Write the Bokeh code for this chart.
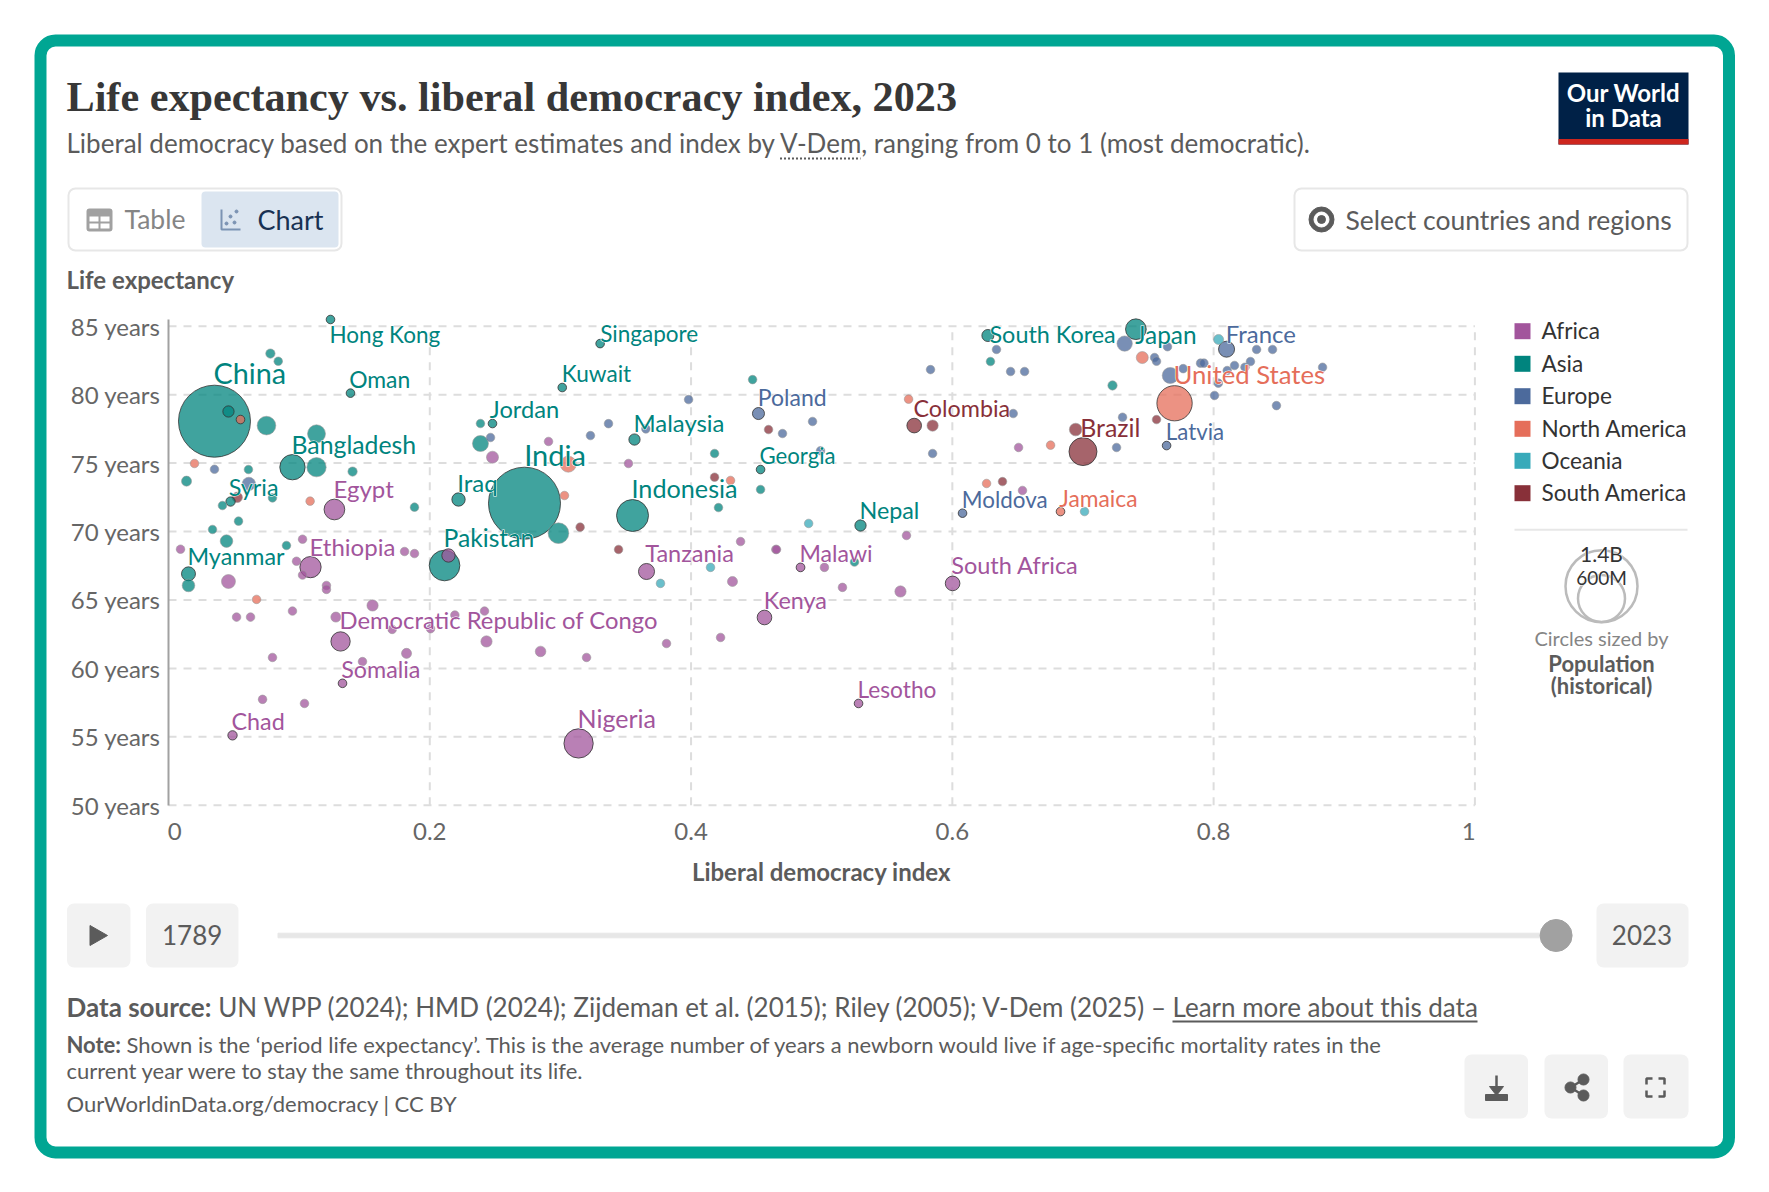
from bokeh.plotting import figure
from bokeh.models import (Range1d, LinearAxis, FixedTicker, BoxAnnotation, ColumnDataSource)
from bokeh.core.properties import value
from bokeh.embed import file_html
from bokeh.resources import INLINE
import numpy as np

# ---------- data ----------
x_ticks = [0, 0.2, 0.4, 0.6, 0.8, 1]
y_ticks = [50, 55, 60, 65, 70, 75, 80, 85]
x_tick_labels = ["0", "0.2", "0.4", "0.6", "0.8", "1"]
y_tick_labels = ["50 years", "55 years", "60 years", "65 years", "70 years", "75 years", "80 years", "85 years"]

continents = ["Africa", "Asia", "Europe", "North America", "Oceania", "South America"]

africa_names = ["Egypt", "Ethiopia", "Tanzania", "South Africa", "Kenya", "Democratic Republic of Congo",
                "Somalia", "Lesotho", "Chad", "Nigeria", "Malawi", ""]
africa_x = [.127, .1087, .3659, .6002, .4562, .1317, .1332, .5282, .049, .3139, .4838, .2143,
            .0092, .1026, .098, .1807, .1883, .0459, .248, .2909, .3521, .4649, .4654, .4379, .5649,
            .4317, .5021, .5159, .5603, .4226, .3812, .6507, .6537,
            .1026, .1209, .1209, .1562, .0521, .0628, .0949, .1281, .2419, .2192, .1712, .2006,
            .2434, .2848, .32, .0796, .1822, .1485, .072, .1041]
africa_y = [71.61, 67.4, 67.08, 66.21, 63.72, 61.97, 58.91, 57.44, 55.11, 54.52, 67.38, 68.25,
            68.71, 69.44, 67.83, 68.54, 68.39, 66.35, 75.43, 76.58, 74.97, 68.69, 68.69, 69.27, 69.71,
            66.35, 67.38, 65.92, 65.62, 62.26, 61.82, 76.14, 73.0,
            66.82, 66.06, 65.77, 64.6, 63.75, 63.75, 64.19, 63.75, 64.19, 63.9, 62.85, 62.9,
            61.97, 61.24, 60.8, 60.8, 61.1, 60.5, 57.74, 57.44]
africa_pop = [118, 125, 71, 59, 59, 103, 20, 10, 24, 237, 21, 49,
              10, 10, 10, 10, 10, 54, 40, 10, 10, 10, 10, 10, 10,
              28, 10, 10, 35, 10, 10, 10, 10,
              10, 10, 10, 35, 10, 10, 10, 28, 10, 10, 10, 10,
              35, 31, 10, 10, 28, 10, 10, 10]

asia_names = ["Hong Kong", "China", "Bangladesh", "Syria", "Pakistan", "Myanmar", "Jordan", "Kuwait", "Singapore",
              "Oman", "India", "Iraq", "Malaysia", "Georgia", "Indonesia", "Nepal", "South Korea", "Japan", ""]
asia_x = [.124, .0352, .0949, .0475, .2113, .0153, .248, .3014, .3304,
          .1393, .2725, .222, .3567, .4532, .3552, .5297, .6272, .7405, .0459,
          .078, .084, .075, .1133, .1133, .1409, .0612, .0138, .0796, .0413, .1883, .0536, .0337, .0444, .0903,
          .0153, .2388, .2388, .2985, .4471, .418, .4532, .421, .5251, .6292, .7226]
asia_y = [85.49, 78.06, 74.7, 72.19, 67.52, 66.91, 77.89, 80.52, 83.73,
          80.11, 72.07, 72.34, 76.72, 74.53, 71.17, 70.44, 84.32, 84.78, 78.77,
          83.0, 82.44, 77.74, 77.14, 74.7, 74.38, 74.53, 73.68, 72.46, 71.9, 71.78, 70.76, 70.15, 69.3, 68.98,
          66.06, 77.89, 76.43, 69.88, 81.1, 75.7, 73.07, 71.75, 67.77, 82.42, 80.67]
asia_pop = [10, 1430, 177, 24, 259, 54, 10, 10, 10,
            10, 1430, 49, 35, 10, 282, 35, 40, 118, 35,
            24, 10, 96, 89, 103, 24, 10, 28, 10, 10, 10, 10, 10, 44, 10,
            44, 10, 71, 118, 10, 10, 10, 10, 10, 10, 24]

europe_names = ["Poland", "Moldova", "Latvia", "France"]
europe_x = [.4516, .6078, .764, .8099,
            .0352, .0615, .2465, .323, .3368, .3981, .493, .47, .3654, .4991, .5833, .6466, .5849,
            .6338, .6446, .6553, .7319, .7548, .7563, .7647, .7668, .7767, .7303, .7257,
            .8329, .8451, .79, .7926, .816, .8282, .8834, .8007, .8481, .8036, .8104, .824]
europe_y = [78.62, 71.34, 76.28, 83.32,
            74.55, 73.48, 76.87, 77.01, 77.88, 79.64, 78.04, 77.16, 77.5, 75.9, 81.83, 78.62, 75.7,
            83.3, 81.69, 81.69, 83.73, 82.71, 82.44, 83.5, 81.4, 81.9, 78.35, 76.14,
            83.3, 83.3, 82.3, 82.3, 82.13, 82.42, 82.0, 79.94, 79.2, 80.84, 81.76, 82.0]
europe_pop = [40, 10, 10, 71,
              10, 49, 10, 10, 10, 10, 10, 10, 10, 10, 10, 10, 10,
              10, 10, 10, 65, 10, 10, 10, 71, 10, 10, 10,
              10, 10, 10, 10, 10, 10, 10, 10, 10, 10, 10, 10]

north_america_names = ["United States", "Jamaica", ""]
north_america_x = [.7701, .6828, .0551, .0199, .1084, .306, .3031, .4302, .5665, .6262, .6752, .7454, .0674]
north_america_y = [79.37, 71.46, 78.18, 74.97, 72.22, 74.92, 72.63, 73.73, 79.67, 73.51, 76.31, 82.71, 65.04]
north_america_pop = [344, 10, 10, 10, 10, 71, 10, 10, 10, 10, 10, 40, 10]

oceania_names = []
oceania_x = [.49, .4149, .3766, .7012, .8038]
oceania_y = [70.59, 67.38, 66.21, 71.46, 84.03]
oceania_pop = [10, 10, 10, 10, 28]

south_america_names = ["Colombia", "Brazil"]
south_america_x = [.5708, .7, .0526, .3151, .3445, .418, .4593, .5849, .6384, .6944, .7563]
south_america_y = [77.74, 75.84, 72.5, 70.32, 68.69, 73.97, 77.45, 77.74, 73.65, 77.45, 78.18]
south_america_pop = [59, 216, 30, 10, 10, 10, 10, 35, 10, 44, 10]

# ---------- layout (screen pixels; not data) ----------
W, H = 1750, 1170
OFF = 0
X0, X1 = 168.0, 1474.4
Y85, Y50 = 325.7, 804.8
PXX, PXY = (X1 - X0), (Y50 - Y85) / 35.0
palette = {"Africa": "#A2559C", "Asia": "#00847E", "Europe": "#4C6A9C",
           "North America": "#E56E5A", "Oceania": "#38AABA", "South America": "#883039"}
INK, GREY, RULE, PANEL = "#5b5b5b", "#858585", "#e7e7e7", "#f2f2f2"
FONT = "Lato"
R_MAX, POP_MAX, R_MIN = 36.0, 1430.0, 4.3
BASE_K = 0.35   # bokeh places the alphabetic baseline lower than asked by this share of the font size
LABEL_DX = -2.0

# name: (left, baseline, font px)
label_layout = {
    "China": (215, 382.7, 28.8), "Hong Kong": (331, 342.3, 22.5), "Oman": (350.7, 387, 22.9),
    "Bangladesh": (293, 452.7, 24.75), "Jordan": (491.3, 417, 23.7), "India": (525.7, 464.3, 29),
    "Syria": (230.3, 494.3, 23.3), "Egypt": (335, 496.7, 24), "Iraq": (458.7, 490, 24),
    "Pakistan": (445, 545.7, 24.7), "Ethiopia": (311, 554, 24), "Myanmar": (189, 564, 23.3),
    "Singapore": (601.7, 340.7, 22.5), "Kuwait": (563.3, 380.7, 22.6), "Poland": (759.3, 405, 23),
    "Malaysia": (635, 430, 23.85), "Georgia": (761, 462.7, 22.2), "Indonesia": (633, 496.7, 25.2),
    "Nepal": (861, 517.3, 23.3), "Tanzania": (646.7, 560.7, 23.5), "Malawi": (801, 560.7, 23.1),
    "Colombia": (915, 416, 23.3), "Moldova": (963.3, 506.7, 22.4), "South Korea": (991, 341.7, 23.4),
    "Japan": (1136.7, 342.7, 24.4), "France": (1227.3, 341.7, 23.9), "United States": (1175, 382.7, 25.7),
    "Brazil": (1081.7, 435, 24.9), "Latvia": (1167.3, 439, 22.3), "Jamaica": (1060.7, 505, 22.8),
    "South Africa": (952.7, 572.7, 23.5), "Kenya": (765.3, 607.7, 23.4), "Lesotho": (859, 696.7, 22.7),
    "Nigeria": (579, 726.7, 25), "Democratic Republic of Congo": (341, 628.3, 23.8),
    "Somalia": (342.7, 676.7, 23.3), "Chad": (233, 728.3, 23.3),
}

p = figure(width=W, height=H, output_backend="svg", toolbar_location=None,
           x_axis_type=None, y_axis_type=None, min_border=0,
           x_range=Range1d((OFF - X0) / PXX, (OFF + W - X0) / PXX),
           y_range=Range1d(85 - (OFF + H - Y85) / PXY, 85 + (Y85 - OFF) / PXY))
p.outline_line_color = None
p.grid.visible = False
p.extra_x_ranges["px"] = Range1d(OFF, OFF + W)
p.extra_y_ranges["px"] = Range1d(OFF + H, OFF)
PX = dict(x_range_name="px", y_range_name="px")


def box(l, t, r, b, fill, line=None, lw=0, radius=0):
    p.add_layout(BoxAnnotation(left=l, right=r, top=t, bottom=b, level="underlay",
                               fill_color=fill, fill_alpha=1, line_color=line, line_alpha=1 if line else 0,
                               line_width=lw, border_radius=radius, editable=False, **PX))


def text(x, y, s, size, color=INK, style="normal", align="left", font=FONT, halo=False):
    common = dict(x=[x], y=[y - BASE_K * size], text=[s], text_font=value(font), text_font_size=f"{size}px",
                  text_font_style=style, text_align=align, text_baseline="alphabetic", **PX)
    if halo:
        p.text(text_color="#ffffff", text_outline_color="#ffffff", **common)
    p.text(text_color=color, **common)


def seg(xs, ys, color=INK, lw=2, dash="solid", cap="butt"):
    p.line(xs, ys, line_color=color, line_width=lw, line_dash=dash, line_cap=cap, **PX)


# frame
box(40, 40, 1728.5, 1152, "#ffffff", "#00A693", 12, 15)

# header
text(66, 111, "Life expectancy vs. liberal democracy index, 2023", 42.2, "#373737", "bold", font="Liberation Serif")
text(66, 152, "Liberal democracy based on the expert estimates and index by V-Dem, ranging from 0 to 1 (most democratic).", 26)
seg([779.5, 860], [158, 158], INK, 2, [2, 2])
box(1558, 72, 1688, 144, "#002147")
box(1558, 138.5, 1688, 144, "#CE261E")
text(1623, 100, "Our World", 24, "#ffffff", "bold", "center")
text(1623, 125, "in Data", 24, "#ffffff", "bold", "center")

# tabs and selector
box(68, 188, 341, 250, "#ffffff", RULE, 2, 7)
box(201, 191, 338, 247, "#dbe5f0", None, 0, 4)
box(86, 208, 112, 231, "#a1a1a1", None, 0, 3)
box(89, 216, 98, 221, "#ffffff"); box(100, 216, 109, 221, "#ffffff")
box(89, 223, 98, 228, "#ffffff"); box(100, 223, 109, 228, "#ffffff")
text(124, 228, "Table", 26.5, GREY)
seg([221, 221, 240], [209, 229, 229], "#7b93b3", 2)
p.scatter([226, 230, 234, 236], [223, 216, 222, 211], size=3, color="#7b93b3", **PX)
text(257, 228, "Chart", 27, "#183153", "normal")
box(1294, 188, 1687, 250, "#ffffff", RULE, 2, 7)
p.scatter([1321], [219], size=25, color=INK, **PX)
p.scatter([1321], [219], size=15, color="#ffffff", **PX)
p.scatter([1321], [219], size=8, color=INK, **PX)
text(1345, 229, "Select countries and regions", 26.5)

text(66, 287, "Life expectancy", 24, INK, "bold")

# grid
p.segment(x0=[0] * len(y_ticks), x1=[1] * len(y_ticks), y0=y_ticks, y1=y_ticks,
          line_color="#dddddd", line_width=2, line_dash="8 7")
p.segment(x0=x_ticks[1:], x1=x_ticks[1:], y0=[50] * 5, y1=[85] * 5,
          line_color="#dddddd", line_width=2, line_dash="8 7")

# axes
xax = LinearAxis(fixed_location=50, ticker=FixedTicker(ticks=x_ticks), bounds=(0, 1),
                 major_label_overrides={t: s for t, s in zip(x_ticks, x_tick_labels)},
                 axis_label="Liberal democracy index")
xax.major_label_overrides[0] = "\u00a0\u00a00"
xax.major_label_overrides[1] = "1\u00a0\u00a0"
xax.axis_line_color = None
xax.major_tick_line_color = None
xax.minor_tick_line_color = None
xax.major_label_text_font = FONT
xax.major_label_text_font_size = "24px"
xax.major_label_text_color = "#666666"
xax.major_label_standoff = 5
xax.axis_label_text_font = FONT
xax.axis_label_text_font_size = "24px"
xax.axis_label_text_font_style = "bold"
xax.axis_label_text_color = INK
xax.axis_label_standoff = 8
p.add_layout(xax, "below")

yax = LinearAxis(fixed_location=0, ticker=FixedTicker(ticks=y_ticks), bounds=(50, 85.5),
                 major_label_overrides={t: s for t, s in zip(y_ticks, y_tick_labels)})
yax.axis_line_color = "#a1a1a1"
yax.axis_line_width = 2
yax.major_tick_line_color = None
yax.minor_tick_line_color = None
yax.major_label_text_font = FONT
yax.major_label_text_font_size = "24px"
yax.major_label_text_color = "#666666"
yax.major_label_standoff = 2
p.add_layout(yax, "left")

# bubbles
series = [("Africa", africa_names, africa_x, africa_y, africa_pop),
          ("Asia", asia_names, asia_x, asia_y, asia_pop),
          ("Europe", europe_names, europe_x, europe_y, europe_pop),
          ("North America", north_america_names, north_america_x, north_america_y, north_america_pop),
          ("Oceania", oceania_names, oceania_x, oceania_y, oceania_pop),
          ("South America", south_america_names, south_america_x, south_america_y, south_america_pop)]
rows = []
for cont, names, xs, ys, pops in series:
    for i, (a, b, c) in enumerate(zip(xs, ys, pops)):
        rows.append((a, b, c, cont, i < len(names)))
rows.sort(key=lambda r: -r[2])
src = ColumnDataSource(dict(
    x=[r[0] for r in rows], y=[r[1] for r in rows],
    size=[2 * max(R_MIN, R_MAX * (r[2] / POP_MAX) ** 0.5) for r in rows],
    fill=[palette[r[3]] for r in rows],
    line=["#333333" if r[4] else "#999999" for r in rows],
    lw=[1.0 if r[4] else 0.7 for r in rows]))
p.scatter("x", "y", size="size", source=src, fill_color="fill", fill_alpha=0.75,
          line_color="line", line_width="lw", line_alpha=0.8)

# country labels: a white halo underneath, the coloured text on top
lx, ly, lt, ls, lc = [], [], [], [], []
for cont, names, xs, ys, pops in series:
    for n in names:
        if n:
            a, b, c = label_layout[n]
            lx.append(a + LABEL_DX); ly.append(b - BASE_K * c); lt.append(n); ls.append(f"{c:.1f}px"); lc.append(palette[cont])
lsrc = ColumnDataSource(dict(x=lx, y=ly, t=lt, s=ls, c=lc))
p.text("x", "y", text="t", source=lsrc, text_font=value(FONT), text_font_size="s", text_color="#ffffff",
       text_baseline="alphabetic", text_outline_color="#ffffff", **PX)
p.text("x", "y", text="t", source=lsrc, text_font=value(FONT), text_font_size="s", text_color="c",
       text_baseline="alphabetic", **PX)

# colour legend
legend_y = [330.7, 363.3, 395.7, 428.3, 460.3, 492.7]
for name, yy in zip(continents, legend_y):
    box(1514, yy - 8, 1530, yy + 8, palette[name])
    text(1541, yy + 7.5, name, 22.6, "#333333")
seg([1514, 1687], [529.3, 529.3], RULE, 2)

# size legend
p.scatter([1601], [585.7], size=72, fill_color=None, line_color="#bbbbbb", line_width=2.5, **PX)
p.scatter([1601], [598], size=47, fill_color=None, line_color="#bbbbbb", line_width=2.5, **PX)
text(1601, 560.5, "1.4B", 21, "#333333", align="center", halo=True)
text(1601, 584, "600M", 19, "#333333", align="center", halo=True)
text(1601, 644, "Circles sized by", 20, GREY, align="center")
text(1601, 671, "Population", 22, INK, "bold", "center")
text(1601, 693, "(historical)", 22, INK, "bold", "center")

# timeline
box(66.5, 903, 130, 967, PANEL, None, 0, 7)
p.patch([89.5, 89.5, 107], [925, 945, 935], color=INK, **PX)
box(145.5, 903, 238, 967, PANEL, None, 0, 7)
text(191.7, 944, "1789", 26, INK, align="center")
p.quad(left=[277.5], right=[1540], top=[932.7], bottom=[937.3], color=RULE, **PX)
p.scatter([1555.6], [935], size=32, color="#a1a1a1", **PX)
box(1596, 903, 1688, 967, PANEL, None, 0, 7)
text(1641.5, 944, "2023", 26, INK, align="center")

# footer
text(66, 1016, "Data source:", 26, INK, "bold")
text(217.7, 1016, "UN WPP (2024); HMD (2024); Zijdeman et al. (2015); Riley (2005); V-Dem (2025) \u2013", 26)
text(1172, 1016, "Learn more about this data", 26)
seg([1172, 1477], [1021, 1021], INK, 2)
text(66, 1052, "Note:", 22, INK, "bold")
text(126, 1052, "Shown is the \u2018period life expectancy\u2019. This is the average number of years a newborn would live if age-specific mortality rates in the", 22)
text(66, 1078, "current year were to stay the same throughout its life.", 22)
text(66, 1111, "OurWorldinData.org/democracy | CC BY", 22)

for l, r in [(1464, 1527.5), (1544, 1607.5), (1623, 1688)]:
    box(l, 1054, r, 1118, PANEL, None, 0, 7)
# download icon
seg([1496, 1496], [1075, 1091], INK, 2.5)
p.patch([1489, 1503, 1496], [1086, 1086, 1095], color=INK, **PX)
p.quad(left=[1485], right=[1507], top=[1094], bottom=[1100], color=INK, **PX)
# share icon
seg([1570, 1583, 1570, 1583], [1087, 1079, 1087, 1095], INK, 2.5)
p.scatter([1570, 1583, 1583], [1087, 1079, 1095], size=11, color=INK, **PX)
# fullscreen icon
for cx, cy, dx, dy in [(1646, 1078, 1, 1), (1664, 1078, -1, 1), (1646, 1096, 1, -1), (1664, 1096, -1, -1)]:
    seg([cx + 6 * dx, cx, cx], [cy, cy, cy + 6 * dy], INK, 2.5)

open("out.html", "w").write(file_html(p, INLINE))
